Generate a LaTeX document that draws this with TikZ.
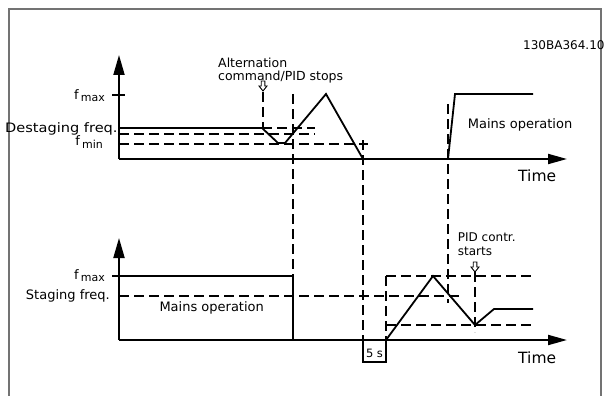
\documentclass[tikz,border=0pt]{standalone}
\usepackage{fontspec}
\setmainfont{DejaVu Sans}
\usetikzlibrary{arrows.meta}
\tikzset{
  curve/.style={line width=1.8pt, line join=miter},
  axisline/.style={line width=2pt},
  dashline/.style={line width=2pt, dash pattern=on 10pt off 5pt},
  lbl/.style={inner sep=0pt, font=\fontsize{13}{14}\selectfont},
  smlbl/.style={inner sep=0pt, font=\fontsize{12.5}{13}\selectfont},
  pidlbl/.style={inner sep=0pt, font=\fontsize{12}{13}\selectfont},
  timelbl/.style={inner sep=0pt, font=\fontsize{15.5}{17}\selectfont},
  harrow/.pic={\draw[line width=0.9pt, fill=white] (-1.8,0) -- (1.8,0) -- (1.8,5) -- (4,5) -- (0,10) -- (-4,5) -- (-1.8,5) -- cycle;}
}
\newcommand{\fsub}[2]{f\,\raisebox{#2}{\fontsize{11}{11}\selectfont #1}}
\begin{document}
\begin{tikzpicture}[x=1pt,y=-1pt]
\useasboundingbox (0,0) rectangle (608,396);
% frame
\draw[line width=1.4pt, gray!90!black] (9,400) -- (9,9) -- (601,9) -- (601,400);

% ---------- top graph ----------
\coordinate (tO) at (119,159);
\coordinate (tY) at (119,55);
\coordinate (tX) at (567,159);
\draw[axisline, -{Triangle[length=20pt,width=11pt]}] (tO) -- (tY);
\draw[axisline, -{Triangle[length=19pt,width=10pt]}] (tO) -- (tX);
\draw[line width=1.6pt] (112,95) -- (125,95);

% dashed levels
\draw[dashline] (262,128) -- (315,128);
\draw[dashline] (119,134) -- (315,134);
\draw[dashline] (119,144) -- (368,144);
% verticals
\draw[dashline] (263,92) -- (263,128);
\draw[dashline] (293,94) -- (293,340);
\draw[dashline] (363,140) -- (363,363);
\draw[dashline] (448,104) -- (448,303);

% curve
\draw[curve] (119,128) -- (262,128) -- (278,143) -- (285,143) -- (326,94) -- (363,159);
\draw[curve] (448,159) -- (455,94) -- (533,94);

\pic at (263,81) {harrow};

\node[smlbl, anchor=base west] (alt1) at (218,68) {Alternation};
\node[smlbl, anchor=base west] (alt2) at (218,81) {command/PID stops};
\node[pidlbl, anchor=base west] (code) at (523,49.5) {130BA364.10};
\node[lbl, anchor=base east] (fmaxT) at (105,99.3) {\fsub{max}{-2pt}};
\node[lbl, anchor=base west] (dest) at (5,132.7) {\scalebox{1.12}[1]{Destaging freq.}};
\node[lbl, anchor=base east] (fminT) at (103,145) {\fsub{min}{-3pt}};
\node[lbl, anchor=base west] (mainsT) at (467.7,128.3) {Mains operation};
\node[timelbl, anchor=base west] (timeT) at (518,181.7) {Time};

% ---------- bottom graph ----------
\coordinate (bO) at (119,340);
\coordinate (bY) at (119,238);
\coordinate (bX) at (567,340);
\draw[axisline, -{Triangle[length=20pt,width=11pt]}] (bO) -- (bY);
\draw[axisline, -{Triangle[length=19pt,width=10pt]}] (bO) -- (bX);
\draw[curve] (112,276) -- (293,276) -- (293,340);

\draw[dashline] (119,296) -- (462,296);
\draw[dashline] (386,276) -- (533,276);
\draw[dashline] (386,325) -- (533,325);
\draw[dashline] (386,276) -- (386,340);
\draw[dashline] (475,272) -- (475,332);

\draw[curve] (386,340) -- (433,276) -- (475,325) -- (494,309) -- (533,309);

% 5 s bracket
\draw[line width=1.2pt] (363,340) -- (363,363);
\draw[line width=1.2pt] (386,340) -- (386,363);
\draw[line width=1.2pt] (363,362) -- (386,362);
\node[inner sep=0pt, font=\fontsize{11.5}{12}\selectfont, anchor=base] (fives) at (374.5,357) {5 s};

\pic at (475,262) {harrow};

\node[lbl, anchor=base east] (fmaxB) at (105,279.3) {\fsub{max}{-2pt}};
\node[lbl, anchor=base east] (stag) at (110,299.3) {Staging freq.};
\node[lbl, anchor=base] (mainsB) at (211.7,311) {Mains operation};
\node[pidlbl, anchor=base west] (pid1) at (457.7,241.7) {PID contr.};
\node[pidlbl, anchor=base west] (pid2) at (457.7,255) {starts};
\node[timelbl, anchor=base west] (timeB) at (518,363.3) {Time};
\end{tikzpicture}
\end{document}
